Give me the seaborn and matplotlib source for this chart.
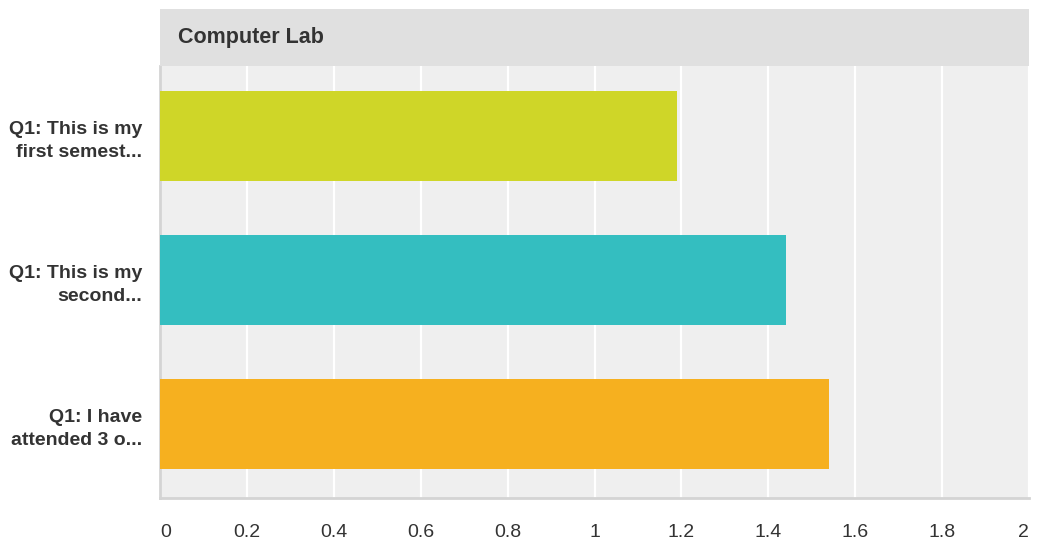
import matplotlib
matplotlib.use("Agg")
import matplotlib.pyplot as plt
import seaborn as sns
import pandas as pd
from matplotlib.patches import Rectangle

categories = ["Q1: This is my\nfirst semest...", "Q1: This is my\nsecond...", "Q1: I have\nattended 3 o..."]
values = [1.19, 1.44, 1.54]
colors = ["#cfd628", "#34bec0", "#f6b01f"]
xticks = [0, 0.2, 0.4, 0.6, 0.8, 1, 1.2, 1.4, 1.6, 1.8, 2]
xticklabels = ["0", "0.2", "0.4", "0.6", "0.8", "1", "1.2", "1.4", "1.6", "1.8", "2"]
title = "Computer Lab"

sns.set_theme(style="white")
plt.rcParams['font.family'] = ['Liberation Sans', 'DejaVu Sans']

df = pd.DataFrame({"cat": categories, "val": values})

W, H = 1037, 546
fig = plt.figure(figsize=(W / 100, H / 100), dpi=100)
left, right, top, bottom = 160, 1029, 66, 498
ax = fig.add_axes([left / W, 1 - bottom / H, (right - left) / W, (bottom - top) / H])
ax.set_facecolor("#efefef")

sns.barplot(data=df, x="val", y="cat", hue="cat", palette=colors, orient="h",
            width=0.625, legend=False, ax=ax, saturation=1, zorder=3, linewidth=0)

ax.set_xlim(0, 2)
ax.set_ylim(2.515, -0.485)
ax.set_xticks(xticks)
ax.set_xticklabels(xticklabels, fontsize=14, color="#333333")
for i, t in enumerate(ax.get_xticklabels()):
    if i == 0:
        t.set_ha("left")
    elif i == len(xticks) - 1:
        t.set_ha("right")
ax.tick_params(axis="x", length=0, pad=19)
ax.tick_params(axis="y", length=0, pad=13)
for t in ax.get_yticklabels():
    t.set_fontsize(14)
    t.set_fontweight("bold")
    t.set_color("#333333")
    t.set_linespacing(1.45)
ax.set_xlabel("")
ax.set_ylabel("")
ax.grid(axis="x", color="white", linewidth=1.6, zorder=1)
ax.set_axisbelow(True)
for s in ["top", "right"]:
    ax.spines[s].set_visible(False)
for s in ["left", "bottom"]:
    ax.spines[s].set_color("#d4d4d4")
    ax.spines[s].set_linewidth(2)

# header band
fig.patches.append(Rectangle((left / W, 1 - top / H), (right - left) / W, (top - 9) / H,
                             transform=fig.transFigure, facecolor="#e0e0e0", edgecolor="none"))
fig.text(178 / W, 1 - 37 / H, title, fontsize=15.5, fontweight="bold", color="#333333",
         va="center", ha="left")

fig.savefig("out.png", dpi=100)
